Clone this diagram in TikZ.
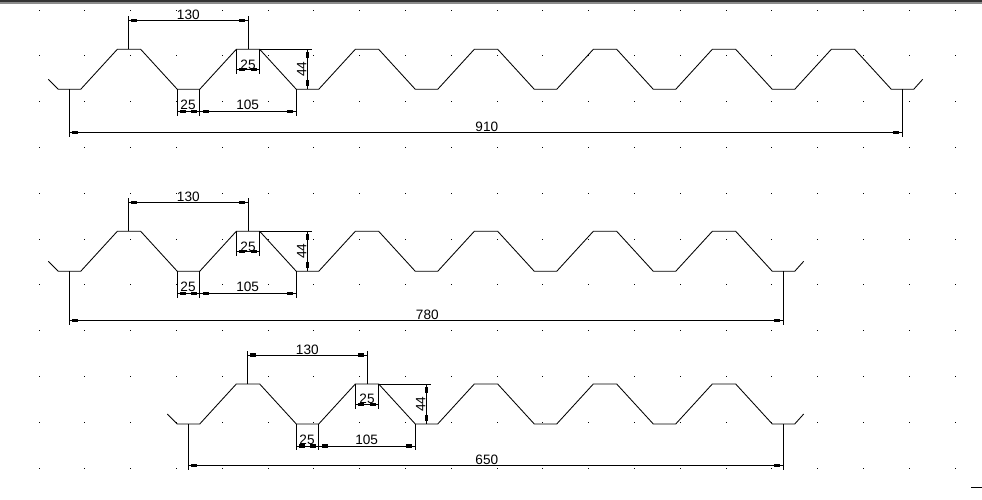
\documentclass[tikz,border=0pt]{standalone}
\usepackage{fontspec}
\setmainfont{Liberation Sans}
\usetikzlibrary{decorations.markings}
\definecolor{barfonce}{gray}{0.2}
\definecolor{bargris}{gray}{0.55}
\tikzset{
  profil/.style={line width=0.85pt},
  cote/.style={line width=1pt},
  coteline/.style={cote, postaction={decorate}, decoration={markings,
      mark=at position 6pt with {\fill (-3pt,-1.7pt) rectangle (3pt,1.7pt);},
      mark=at position -6pt with {\fill (-3pt,-1.7pt) rectangle (3pt,1.7pt);}}},
  cotetexte/.style={font=\fontsize{13.6}{14}\selectfont, inner sep=0pt}
}
% #1 name, #2 crests, #3 level of long dimension, #4 its label
\newcommand{\sheet}[4]{
  \pgfmathsetmacro{\rightx}{69.3+119*#2}
  \draw[profil] (48.3,30) -- (58.3,40) -- (80.7,40)
    \foreach \i in {1,...,#2} { -- ++(36.6,-40) -- ++(23.4,0) -- ++(36.6,40) -- ++(22.4,0) }
    -- ++(9,-10);
  % 130
  \draw[cote] (128.3,0) -- (128.3,-33.3);
  \draw[cote] (248.3,0) -- (248.3,-33.3);
  \draw[coteline] (128.3,-29) -- (248.3,-29);
  \node[cotetexte] (#1haut) at (188.3,-34.5) {130};
  % 25 on the crest
  \draw[cote] (236.3,0) -- (236.3,25);
  \draw[cote] (259.7,0) -- (259.7,25);
  \draw[coteline] (236.3,20.4) -- (259.7,20.4);
  \node[cotetexte] (#1crete) at (248,15.2) {25};
  % 25 and 105 below
  \draw[cote] (177.3,40) -- (177.3,66.4);
  \draw[cote] (199.7,40) -- (199.7,66.4);
  \draw[cote] (296.3,40) -- (296.3,66.4);
  \draw[coteline] (177.3,62) -- (199.7,62);
  \draw[coteline] (199.7,62) -- (296.3,62);
  \node[cotetexte] (#1creux) at (188,56) {25};
  \node[cotetexte] (#1pas) at (247.7,56) {105};
  % 44
  \draw[cote] (259.7,0) -- (311.7,0);
  \draw[coteline] (307.3,0) -- (307.3,40);
  \node[cotetexte, rotate=90] (#1hauteur) at (301.8,20) {44};
  % long dimension
  \draw[cote] (69.3,40) -- (69.3,#3+4.4);
  \draw[cote] (\rightx,40) -- (\rightx,#3+4.4);
  \draw[coteline] (69.3,#3) -- (\rightx,#3);
  \node[cotetexte] (#1long) at ({(69.3+\rightx)/2+1},#3-5.8) {#4};
}
\begin{document}
\begin{tikzpicture}[x=1pt,y=-1pt]
  \useasboundingbox (0,0) rectangle (982,499);
  \fill[barfonce] (0,0) rectangle (982,1.5);
  \fill[bargris] (0,1.5) rectangle (982,3.5);
  % grid points
  \foreach \i in {0,...,20}
    \foreach \j in {0,...,10}
      \fill ({39+45.8*\i-0.5},{10+45.8*\j-0.5}) rectangle ++(1,1);
  \begin{scope}[shift={(0,49.3)}]
    \sheet{a}{7}{83}{910}
  \end{scope}
  \begin{scope}[shift={(0,231.3)}]
    \sheet{b}{6}{89}{780}
  \end{scope}
  \begin{scope}[shift={(119,384)}]
    \sheet{c}{5}{81.3}{650}
  \end{scope}
  \draw[line width=1pt] (971,487.3) -- (982,487.3);
\end{tikzpicture}
\end{document}
